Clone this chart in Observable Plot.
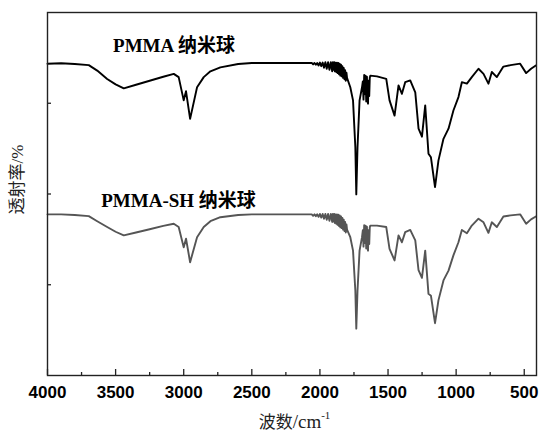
<!DOCTYPE html>
<html>
<head>
<meta charset="utf-8">
<script src="https://cdn.jsdelivr.net/npm/d3@7"></script>
<script src="https://cdn.jsdelivr.net/npm/@observablehq/plot@0.6"></script>
<style>
  html, body { margin: 0; padding: 0; background: #fff; }
</style>
</head>
<body>
<div id="chart"></div>
<script>
// ---- data ----
const wavenumbers = [
  4000, 3900, 3800, 3697, 3635, 3562, 3500, 3440, 3350, 3250, 3150, 3073, 3037, 3000, 2983, 2953,
  2902, 2853, 2804, 2731, 2600, 2500, 2300, 2071,
  2060, 2050, 2040, 2030, 2020, 2010, 2000, 1990, 1980, 1970, 1960, 1950, 1940, 1930, 1920, 1910,
  1905, 1900, 1895, 1890, 1885, 1880, 1875, 1870, 1865, 1860, 1855, 1850, 1845, 1840, 1835, 1830,
  1825, 1820, 1815, 1810, 1805, 1801,
  1777, 1757, 1740, 1733, 1724, 1709, 1691,
  1685, 1680, 1675, 1670, 1665, 1660, 1655, 1650, 1647, 1643, 1638, 1634, 1630,
  1581, 1513, 1489, 1452, 1423, 1398, 1374, 1337, 1300, 1276, 1251, 1227, 1203, 1185, 1155, 1130,
  1093, 1056, 1020, 983, 958, 921, 885, 836, 799, 763, 738, 701, 653, 600, 530, 486, 450, 415
];
const pmma = [
  85.9, 86.0, 85.8, 85.5, 84.0, 81.7, 80.2, 79.1, 80.1, 81.2, 82.3, 83.1, 82.2, 75.8, 78.3, 70.7,
  79.4, 82.2, 83.8, 84.9, 85.8, 86.1, 86.1, 86.1,
  86.1, 85.7, 86.1, 85.6, 86.1, 85.4, 86.2, 85.2, 86.2, 84.8, 86.3, 84.5, 86.3, 84.2, 86.3, 83.8,
  86.3, 84.2, 86.3, 83.8, 86.2, 83.6, 86.2, 83.3, 86.1, 83.0, 85.9, 82.6, 85.6, 82.4, 85.2, 82.0,
  84.7, 81.6, 84.1, 81.2, 83.4, 82.0,
  79.4, 75.8, 62.9, 49.9, 62.9, 75.8, 79.4,
  81.0, 76.0, 82.8, 77.5, 82.6, 75.5, 82.3, 76.5, 74.9, 81.2, 77.0, 82.0, 82.6,
  82.4, 81.7, 75.8, 71.6, 79.9, 77.6, 80.8, 81.3, 78.0, 68.0, 65.8, 74.4, 61.1, 60.1, 51.9, 59.2,
  65.2, 68.0, 73.0, 76.7, 80.8, 80.4, 82.2, 84.5, 83.1, 80.4, 83.6, 82.2, 85.1, 85.5, 85.9, 83.3, 84.5, 85.4
];
const pmmaSH = [
  44.4, 44.4, 44.2, 43.9, 42.5, 40.9, 39.6, 38.6, 39.4, 40.3, 41.2, 41.8, 40.9, 35.3, 37.7, 31.2,
  38.1, 40.9, 42.5, 43.6, 44.2, 44.4, 44.4, 44.4,
  44.4, 44.0, 44.4, 43.9, 44.4, 43.7, 44.5, 43.5, 44.5, 43.2, 44.5, 42.9, 44.5, 42.6, 44.5, 42.3,
  44.5, 42.4, 44.5, 42.0, 44.4, 41.8, 44.4, 41.5, 44.3, 41.2, 44.1, 40.8, 43.8, 40.6, 43.4, 40.2,
  42.9, 39.8, 42.3, 39.4, 41.6, 40.2,
  38.1, 34.4, 23.4, 12.9, 23.4, 34.4, 38.1,
  40.0, 35.5, 41.4, 36.5, 41.3, 35.0, 41.0, 35.8, 34.4, 40.0, 36.2, 40.8, 41.3,
  41.3, 40.9, 34.9, 31.7, 38.6, 36.7, 39.5, 40.1, 37.2, 29.0, 26.9, 34.4, 22.5, 22.0, 14.4, 20.7,
  26.2, 28.9, 33.1, 36.7, 40.1, 39.2, 41.3, 43.2, 42.2, 39.3, 42.2, 40.9, 43.8, 44.1, 44.4, 41.8, 43.0, 43.8
];
const seriesLabels = ["PMMA 纳米球", "PMMA-SH 纳米球"];
const xMajorTicks = [4000, 3500, 3000, 2500, 2000, 1500, 1000, 500];
const xMinorTicks = [3750, 3250, 2750, 2250, 1750, 1250, 750];
const yTicks = [25, 50, 75];
const xTitleMain = "波数";
const xTitleUnit = "/cm";
const xTitleExp = "-1";
const yTitle = "透射率/%";

// ---- layout ----
const W = 540, H = 431;
const mL = 47, mR = 4, mT = 12, mB = 56;
const fw = W - mL - mR, fh = H - mT - mB;
const serif = "'Liberation Serif','Times New Roman','Noto Sans CJK SC',serif";
const sans = "'Liberation Sans',Arial,Helvetica,sans-serif";

const rowsA = wavenumbers.map((w, i) => ({w, t: pmma[i]}));
const rowsB = wavenumbers.map((w, i) => ({w, t: pmmaSH[i]}));

const chart = Plot.plot({
  width: W,
  height: H,
  marginLeft: mL,
  marginRight: mR,
  marginTop: mT,
  marginBottom: mB,
  style: {background: "#fff", color: "#000", overflow: "visible"},
  x: {domain: [4000, 410]},
  y: {domain: [0, 100], axis: null},
  marks: [
    Plot.tickX(xMajorTicks, {x: d => d, insetTop: fh - 6, stroke: "#222", strokeWidth: 1.3}),
    Plot.tickX(xMinorTicks, {x: d => d, insetTop: fh - 3, stroke: "#222", strokeWidth: 1.3}),
    Plot.tickY(yTicks, {y: d => d, insetRight: fw - 4, stroke: "#222", strokeWidth: 1.3}),
    Plot.axisX(xMajorTicks, {tickSize: 0, tickPadding: 10, fontSize: 17, fontWeight: "bold", fontFamily: sans, label: null, tickFormat: d => String(d)}),
    Plot.line(rowsA, {x: "w", y: "t", stroke: "#000", strokeWidth: 1.9}),
    Plot.line(rowsB, {x: "w", y: "t", stroke: "#555", strokeWidth: 1.9}),
    Plot.frame({stroke: "#222", strokeWidth: 1.4}),
    Plot.text([seriesLabels[0]], {frameAnchor: "top-left", textAnchor: "middle", lineAnchor: "bottom", dx: 126.5, dy: 39.7, fontSize: 19, fontWeight: "bold", fontFamily: serif, fill: "#000"}),
    Plot.text([seriesLabels[1]], {frameAnchor: "top-left", textAnchor: "middle", lineAnchor: "bottom", dx: 131, dy: 194, fontSize: 19, fontWeight: "bold", fontFamily: serif, fill: "#000"}),
    Plot.text([yTitle], {frameAnchor: "left", textAnchor: "middle", lineAnchor: "middle", rotate: -90, dx: -29.5, dy: -14.5, fontSize: 17, fontFamily: serif, fill: "#222"}),
    Plot.text([xTitleMain + xTitleUnit + xTitleExp], {frameAnchor: "bottom", textAnchor: "middle", lineAnchor: "bottom", dx: 2.5, dy: 52, fontSize: 17, fontFamily: serif, fill: "#222"})
  ]
});

// superscript for the unit in the x title
d3.select(chart).selectAll("text")
  .filter(function () { return this.textContent === xTitleMain + xTitleUnit + xTitleExp; })
  .each(function () {
    const t = d3.select(this);
    t.text(null);
    t.append("tspan").text(xTitleMain);
    t.append("tspan").attr("font-size", 19).text(xTitleUnit);
    t.append("tspan").attr("font-size", 11).attr("dy", "-0.75em").text(xTitleExp);
  });

document.getElementById("chart").append(chart);
</script>
</body>
</html>
